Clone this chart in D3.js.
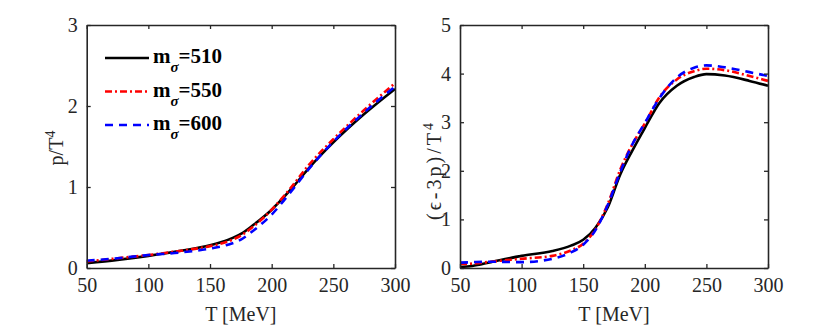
<!DOCTYPE html>
<meta charset="utf-8">
<script src="https://d3js.org/d3.v7.min.js"></script>
<body style="margin:0">
<div id="my_dataviz"></div>
<script>

  // temperature grid (MeV) and curves
  var tP = [50, 75, 100, 125, 150, 165, 175, 185, 200, 215, 230, 250, 275, 300];
  var p510 = [0.06, 0.10, 0.15, 0.21, 0.28, 0.35, 0.42, 0.53, 0.72, 0.96, 1.23, 1.55, 1.90, 2.21];
  var p550 = [0.08, 0.12, 0.16, 0.21, 0.27, 0.33, 0.40, 0.51, 0.72, 0.98, 1.27, 1.59, 1.95, 2.28];
  var p600 = [0.09, 0.12, 0.16, 0.19, 0.24, 0.29, 0.35, 0.46, 0.66, 0.93, 1.22, 1.56, 1.92, 2.24];

  var tI = [50, 60, 75, 100, 125, 140, 150, 160, 170, 180, 190, 200, 212, 226, 240, 250, 265, 285, 300];
  var i510 = [0.02, 0.04, 0.12, 0.25, 0.35, 0.46, 0.58, 0.83, 1.25, 1.92, 2.42, 2.88, 3.40, 3.75, 3.93, 3.99, 3.96, 3.85, 3.75];
  var i550 = [0.08, 0.09, 0.13, 0.19, 0.25, 0.36, 0.50, 0.80, 1.32, 2.02, 2.55, 2.97, 3.52, 3.88, 4.05, 4.10, 4.07, 3.95, 3.85];
  var i600 = [0.11, 0.12, 0.13, 0.12, 0.19, 0.32, 0.48, 0.78, 1.30, 1.97, 2.55, 2.98, 3.50, 3.92, 4.12, 4.17, 4.13, 4.03, 3.95];

  var xTicks = [50, 100, 150, 200, 250, 300];
  var labels = ["510", "550", "600"];
  var colors = ["#000000", "#ff0000", "#0000ff"];
  var dashes = [null, "7,3,2,3", "8,6"];

  var serif = "'Liberation Serif'";

  var svg = d3.select("#my_dataviz")
    .append("svg")
    .attr("width", 830)
    .attr("height", 333);

  function drawPanel(left, right, yMax, tGrid, series, ylabel, labelGap, labelY, spacing) {
    var top = 25, bottom = 268;
    var x = d3.scaleLinear().domain([50, 300]).range([left, right]);
    var y = d3.scaleLinear().domain([0, yMax]).range([bottom, top]);
    var yTicks = d3.range(0, yMax + 1);

    // curves
    series.forEach(function (vals, k) {
      var pts = tGrid.map(function (t, i) { return [t, vals[i]]; });
      svg.append("path")
        .datum(pts)
        .attr("d", d3.line()
          .x(function (d) { return x(d[0]) })
          .y(function (d) { return y(d[1]) })
          .curve(d3.curveMonotoneX))
        .attr("fill", "none")
        .attr("stroke", colors[k])
        .attr("stroke-width", 2.6)
        .attr("stroke-dasharray", dashes[k]);
    });

    // axes with inward ticks, mirrored on top/right
    var g = svg.append("g");
    g.append("g").attr("transform", "translate(0," + bottom + ")")
      .call(d3.axisBottom(x).tickValues(xTicks).tickSizeInner(-4).tickSizeOuter(0).tickPadding(10).tickFormat(d3.format("d")));
    g.append("g").attr("transform", "translate(0," + top + ")")
      .call(d3.axisTop(x).tickValues(xTicks).tickSizeInner(-4).tickSizeOuter(0).tickFormat(""));
    g.append("g").attr("transform", "translate(" + left + ",0)")
      .call(d3.axisLeft(y).tickValues(yTicks).tickSizeInner(-4).tickSizeOuter(0).tickPadding(9).tickFormat(d3.format("d")));
    g.append("g").attr("transform", "translate(" + right + ",0)")
      .call(d3.axisRight(y).tickValues(yTicks).tickSizeInner(-4).tickSizeOuter(0).tickFormat(""));
    g.selectAll(".domain").attr("stroke", "#262626").attr("stroke-width", 1.6);
    g.selectAll(".tick line").attr("stroke", "#262626").attr("stroke-width", 1.3);
    g.selectAll(".tick text")
      .style("font-family", serif)
      .style("font-size", "20px")
      .style("fill", "#262626");

    svg.append("text")
      .attr("x", (left + right) / 2)
      .attr("y", 321)
      .attr("text-anchor", "middle")
      .style("font-family", serif)
      .style("font-size", "20px")
      .style("fill", "#262626")
      .text("T [MeV]");

    var yl = svg.append("text")
      .attr("transform", "translate(" + (left - labelGap) + "," + labelY + ")rotate(-90)")
      .attr("text-anchor", "middle")
      .style("font-family", serif)
      .style("font-size", "20px")
      .style("letter-spacing", spacing + "px")
      .style("fill", "#262626");
    yl.append("tspan").text(ylabel);
    yl.append("tspan").attr("dy", -8).style("font-size", "14px").text("4");
  }

  drawPanel(86.7, 395, 3, tP, [p510, p550, p600], "p/T", 24, 148, 0);
  drawPanel(460, 768, 5, tI, [i510, i550, i600], "(\u03f5-3p)/T", 19, 170, 3);

  // legend
  labels.forEach(function (lab, k) {
    var ly = 58 + k * 33.5;
    svg.append("line")
      .attr("x1", 105).attr("x2", 149)
      .attr("y1", ly).attr("y2", ly)
      .attr("stroke", colors[k])
      .attr("stroke-width", 2.6)
      .attr("stroke-dasharray", dashes[k]);
    var t = svg.append("text")
      .attr("x", 153)
      .attr("y", ly + 5)
      .style("font-family", serif)
      .style("font-size", "21px")
      .style("font-weight", "bold")
      .style("fill", "#000");
    t.append("tspan").text("m");
    t.append("tspan").attr("dy", 9).style("font-style", "italic").style("font-size", "15px").text("\u03c3");
    t.append("tspan").attr("dy", -9).text("=" + lab);
  });

</script>
</body>
